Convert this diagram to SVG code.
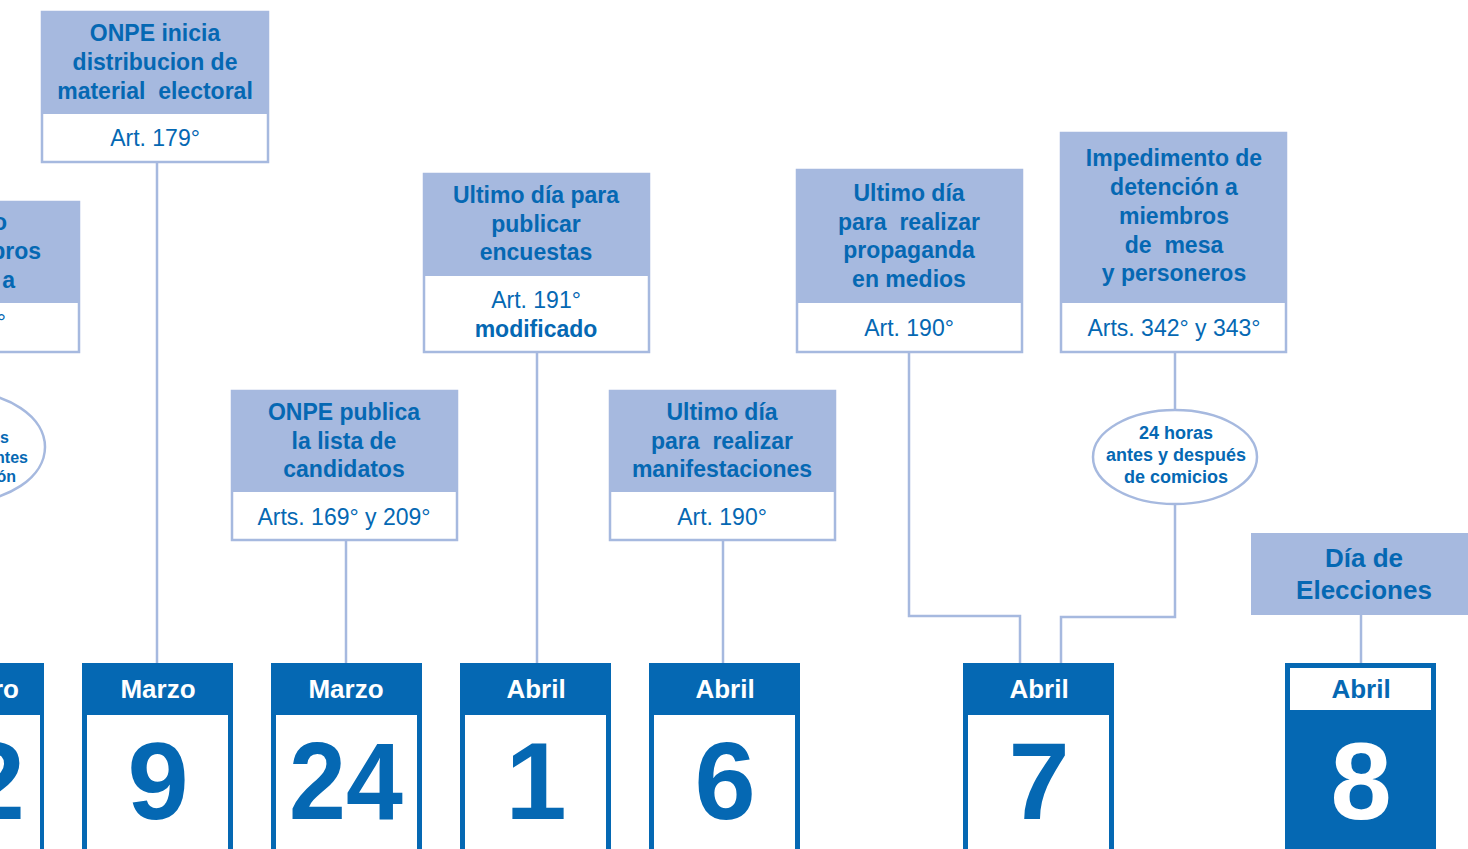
<svg xmlns="http://www.w3.org/2000/svg" width="1468" height="849" viewBox="0 0 1468 849">
<style>
.box{fill:#ffffff;stroke:#a6b9df;stroke-width:2.5}
.hdr{fill:#a6b9df}
.t{font-family:"Liberation Sans",Arial,sans-serif;fill:#0568b3;text-anchor:middle}
.b{font-weight:bold;font-size:23px}
.r{font-size:23px}
.e{font-weight:bold;font-size:18px}
.cal{fill:#0568b3}
.in{fill:#ffffff}
.m{font-family:"Liberation Sans",Arial,sans-serif;font-weight:bold;font-size:26px;fill:#ffffff;text-anchor:middle}
.d{font-family:"Liberation Sans",Arial,sans-serif;font-weight:bold;font-size:110px;fill:#0568b3;text-anchor:middle}
.con{fill:none;stroke:#a6b9df;stroke-width:2.5}
</style>
<rect width="1468" height="849" fill="#ffffff"/>
<g id="connectors">
<path class="con" d="M157 162 V663"/>
<path class="con" d="M346 540 V663"/>
<path class="con" d="M537 352 V663"/>
<path class="con" d="M723 540 V663"/>
<path class="con" d="M909 352 V616 H1020 V663"/>
<path class="con" d="M1175 352 V410"/>
<path class="con" d="M1175 504 V617 H1061 V663"/>
<path class="con" d="M1361 615 V663"/>
</g>
<g id="node-left-box">
<rect class="box" x="-150" y="202" width="229" height="150"/>
<rect class="hdr" x="-150" y="203" width="228" height="100"/>
<text class="t b" style="text-anchor:end" x="7" y="230">o</text>
<text class="t b" style="text-anchor:end" x="41" y="259">bros</text>
<text class="t b" style="text-anchor:end" x="15" y="288">a</text>
<text class="t r" style="text-anchor:end" x="6" y="330">°</text>
</g>
<g id="node-left-ellipse">
<ellipse cx="-38" cy="447" rx="83" ry="55" fill="#ffffff" stroke="#a6b9df" stroke-width="2.5"/>
<text class="t" style="text-anchor:end;font-weight:bold;font-size:16px" x="9" y="443">s</text>
<text class="t" style="text-anchor:end;font-weight:bold;font-size:16px" x="28" y="463">ntes</text>
<text class="t" style="text-anchor:end;font-weight:bold;font-size:16px" x="16" y="482">ón</text>
</g>
<g id="node-box-179">
<rect class="box" x="42" y="12" width="226" height="150"/>
<rect class="hdr" x="43" y="13" width="224" height="101"/>
<text class="t b" x="155" y="41">ONPE inicia</text>
<text class="t b" x="155" y="70">distribucion de</text>
<text class="t b" x="155" y="99" xml:space="preserve">material  electoral</text>
<text class="t r" x="155" y="146">Art. 179°</text>
</g>
<g id="node-box-candidatos">
<rect class="box" x="232" y="391" width="225" height="149"/>
<rect class="hdr" x="233" y="392" width="223" height="100"/>
<text class="t b" x="344" y="420">ONPE publica</text>
<text class="t b" x="344" y="449">la lista de</text>
<text class="t b" x="344" y="477">candidatos</text>
<text class="t r" x="344" y="525">Arts. 169° y 209°</text>
</g>
<g id="node-box-encuestas">
<rect class="box" x="424" y="174" width="225" height="178"/>
<rect class="hdr" x="425" y="175" width="223" height="101"/>
<text class="t b" x="536" y="203">Ultimo día para</text>
<text class="t b" x="536" y="232">publicar</text>
<text class="t b" x="536" y="260">encuestas</text>
<text class="t r" x="536" y="308">Art. 191°</text>
<text class="t b" x="536" y="337">modificado</text>
</g>
<g id="node-box-manifestaciones">
<rect class="box" x="610" y="391" width="225" height="149"/>
<rect class="hdr" x="611" y="392" width="223" height="100"/>
<text class="t b" x="722" y="420">Ultimo día</text>
<text class="t b" x="722" y="449" xml:space="preserve">para  realizar</text>
<text class="t b" x="722" y="477">manifestaciones</text>
<text class="t r" x="722" y="525">Art. 190°</text>
</g>
<g id="node-box-propaganda">
<rect class="box" x="797" y="170" width="225" height="182"/>
<rect class="hdr" x="798" y="171" width="223" height="132"/>
<text class="t b" x="909" y="201">Ultimo día</text>
<text class="t b" x="909" y="230" xml:space="preserve">para  realizar</text>
<text class="t b" x="909" y="258">propaganda</text>
<text class="t b" x="909" y="287">en medios</text>
<text class="t r" x="909" y="336">Art. 190°</text>
</g>
<g id="node-box-impedimento">
<rect class="box" x="1061" y="133" width="225" height="219"/>
<rect class="hdr" x="1062" y="134" width="223" height="169"/>
<text class="t b" x="1174" y="166">Impedimento de</text>
<text class="t b" x="1174" y="195">detención a</text>
<text class="t b" x="1174" y="224">miembros</text>
<text class="t b" x="1174" y="253" xml:space="preserve">de  mesa</text>
<text class="t b" x="1174" y="281">y personeros</text>
<text class="t r" x="1174" y="336">Arts. 342° y 343°</text>
</g>
<g id="node-ellipse-24h">
<ellipse cx="1175" cy="457" rx="82" ry="47" fill="#ffffff" stroke="#a6b9df" stroke-width="2.5"/>
<text class="t e" x="1176" y="439">24 horas</text>
<text class="t e" x="1176" y="461">antes y después</text>
<text class="t e" x="1176" y="483">de comicios</text>
</g>
<g id="node-box-elecciones">
<rect class="hdr" x="1251" y="533" width="217" height="82"/>
<text class="t" style="font-weight:bold;font-size:26px" x="1364" y="567">Día de</text>
<text class="t" style="font-weight:bold;font-size:26px" x="1364" y="599">Elecciones</text>
</g>
<g id="cal-left">
<rect class="cal" x="-110" y="663" width="154" height="200"/>
<rect class="in" x="-106" y="715" width="146" height="140"/>
<text class="m" style="text-anchor:end" x="19" y="698">ro</text>
<text class="d" style="text-anchor:end" x="25" y="819">2</text>
</g>
<g id="cal-marzo-9">
<rect class="cal" x="82" y="663" width="151" height="200"/>
<rect class="in" x="87" y="715" width="141" height="140"/>
<text class="m" x="158" y="698">Marzo</text>
<text class="d" x="158" y="819">9</text>
</g>
<g id="cal-marzo-24">
<rect class="cal" x="271" y="663" width="151" height="200"/>
<rect class="in" x="276" y="715" width="141" height="140"/>
<text class="m" x="346" y="698">Marzo</text>
<text class="d" transform="translate(346 0) scale(0.93 1)" x="0" y="819">24</text>
</g>
<g id="cal-abril-1">
<rect class="cal" x="460" y="663" width="151" height="200"/>
<rect class="in" x="465" y="715" width="141" height="140"/>
<text class="m" x="536" y="698">Abril</text>
<text class="d" x="536" y="819">1</text>
</g>
<g id="cal-abril-6">
<rect class="cal" x="649" y="663" width="151" height="200"/>
<rect class="in" x="654" y="715" width="141" height="140"/>
<text class="m" x="725" y="698">Abril</text>
<text class="d" x="725" y="819">6</text>
</g>
<g id="cal-abril-7">
<rect class="cal" x="963" y="663" width="151" height="200"/>
<rect class="in" x="968" y="715" width="141" height="140"/>
<text class="m" x="1039" y="698">Abril</text>
<text class="d" x="1039" y="819">7</text>
</g>
<g id="cal-abril-8">
<rect class="cal" x="1285" y="663" width="151" height="200"/>
<rect class="in" x="1290" y="668" width="141" height="42"/>
<text class="m" style="fill:#0568b3" x="1361" y="698">Abril</text>
<text class="d" style="fill:#ffffff" x="1361" y="819">8</text>
</g>
</svg>
